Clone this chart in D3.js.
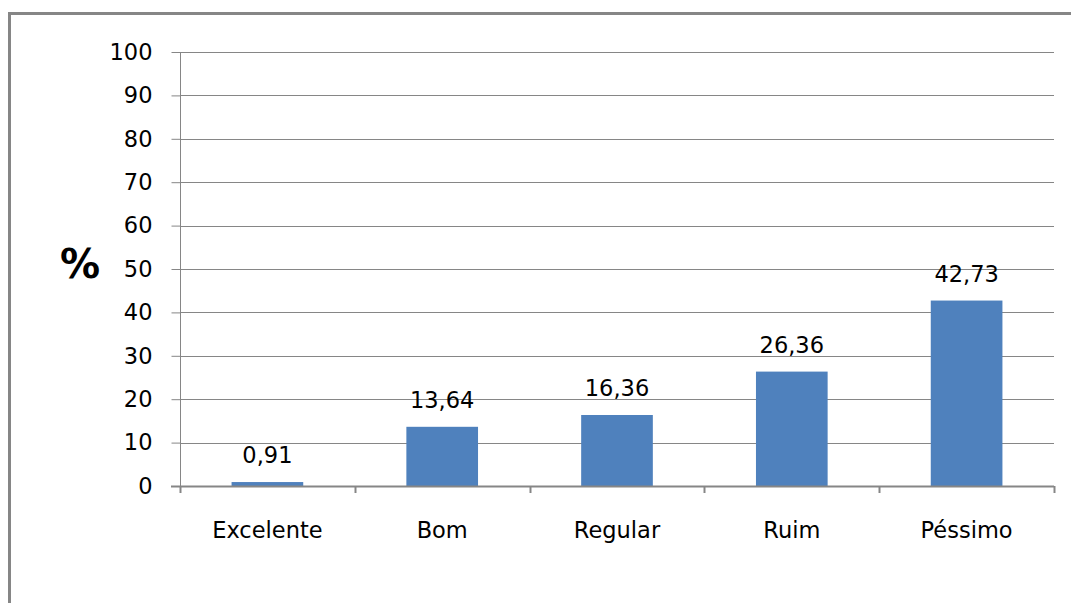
<!DOCTYPE html>
<html><head><meta charset="utf-8">
<script src="https://cdn.jsdelivr.net/npm/d3@7"></script>
<style>body{margin:0;background:#fff}svg{display:block}</style>
</head><body>
<script>
const categories = ["Excelente","Bom","Regular","Ruim","Péssimo"];
const values = [0.91,13.64,16.36,26.36,42.73];
const labels = ["0,91","13,64","16,36","26,36","42,73"];
const yTicks = [0,10,20,30,40,50,60,70,80,90,100];

(function(){
const W=1071,H=603;
const svg=d3.select("body").append("svg").attr("width",W).attr("height",H);
svg.append("rect").attr("x",9.5).attr("y",13.5).attr("width",1080).attr("height",620)
  .attr("fill","none").attr("stroke","#868686").attr("stroke-width",3);

const pL=180,pR=1054,pT=52,pB=486;
const x=d3.scaleBand().domain(categories).range([pL,pR]).paddingInner(0.59).paddingOuter(0.295);
const y=d3.scaleLinear().domain([0,100]).range([pB,pT]);
const font="DejaVu Sans, Verdana, sans-serif";
const fs=22.5;

svg.append("g").selectAll("line").data(yTicks.filter(d=>d>0)).join("line")
  .attr("x1",pL).attr("x2",pR).attr("y1",d=>Math.round(y(d))+0.5).attr("y2",d=>Math.round(y(d))+0.5)
  .attr("stroke","#868686").attr("stroke-width",1);

const ya=svg.append("g").attr("transform",`translate(${pL+0.5},0)`)
  .call(d3.axisLeft(y).tickValues(yTicks).tickSize(9).tickPadding(19).tickFormat(d3.format("d")));
ya.select(".domain").attr("stroke","#868686").attr("d",`M0,${pT}V${pB+6}`);
ya.selectAll(".tick line").attr("stroke","#868686");
ya.selectAll(".tick text").attr("font-family",font).attr("font-size",fs).attr("fill","#000");

svg.append("g").selectAll("rect").data(values).join("rect")
  .attr("x",(d,i)=>x(categories[i])).attr("width",x.bandwidth())
  .attr("y",d=>y(d)).attr("height",d=>pB-y(d)).attr("fill","#4F81BD");

const step=(pR-pL)/categories.length;
const xa=svg.append("g");
xa.append("line").attr("x1",pL-9).attr("x2",pR).attr("y1",pB+0.5).attr("y2",pB+0.5)
  .attr("stroke","#868686").attr("stroke-width",2);
xa.selectAll("line.t").data(d3.range(categories.length+1)).join("line").attr("class","t")
  .attr("x1",i=>Math.round(pL+i*step)+0.5).attr("x2",i=>Math.round(pL+i*step)+0.5)
  .attr("y1",pB).attr("y2",pB+7).attr("stroke","#868686").attr("stroke-width",2);
xa.selectAll("text").data(categories).join("text")
  .attr("x",d=>x(d)+x.bandwidth()/2).attr("y",538).attr("text-anchor","middle")
  .attr("font-family",font).attr("font-size",fs).attr("fill","#000").text(d=>d);

svg.append("g").selectAll("text").data(values).join("text")
  .attr("x",(d,i)=>x(categories[i])+x.bandwidth()/2).attr("y",d=>y(d)-19)
  .attr("text-anchor","middle").attr("font-family",font).attr("font-size",fs).attr("fill","#000")
  .text((d,i)=>labels[i]);

svg.append("text").attr("x",80).attr("y",278).attr("text-anchor","middle")
  .attr("font-family",font).attr("font-size",40).attr("font-weight","bold").attr("fill","#000").text("%");
})();
</script>
</body></html>
